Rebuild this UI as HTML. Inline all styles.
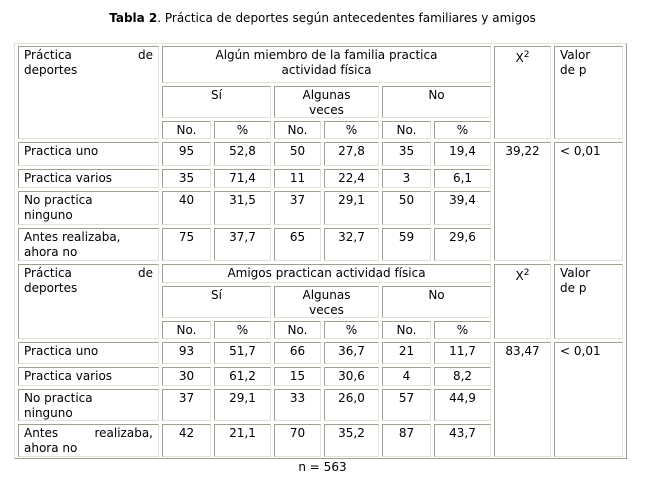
<!DOCTYPE html>
<html><head><meta charset="utf-8"><style>
body{margin:0;background:#fff;width:645px;height:480px;position:relative;font-family:"DejaVu Sans",Verdana,sans-serif;font-size:12px;color:#000;overflow:hidden}
.c{position:absolute;box-sizing:border-box;border:1px solid;border-color:#a09f90 #e2e1d4 #e2e1d4 #a09f90;line-height:15px;padding:1px 5px 0 5px}
.ctr{text-align:center}
#tbl{position:absolute;left:14px;top:43px;width:613px;height:416px;box-sizing:border-box;border:1px solid;border-color:#e2e1d4 #a09f90 #a09f90 #e2e1d4}
.t{position:absolute;left:0;width:645px;text-align:center}
</style></head><body>
<div class="t" style="top:11px"><b>Tabla 2</b>. Práctica de deportes según antecedentes familiares y amigos</div>
<div id="tbl"></div>
<div class="t" style="top:460px">n = 563</div>
<script>
function cell(x1,y1,x2,y2,html,cls){var d=document.createElement('div');d.className='c '+(cls||'');d.style.left=x1+'px';d.style.top=y1+'px';d.style.width=(x2-x1)+'px';d.style.height=(y2-y1)+'px';d.innerHTML=html;document.body.appendChild(d);}
var cols=[[162,211],[214,271],[274,321],[324,379],[382,431],[434,491]];
var pd='<div style="display:flex;justify-content:space-between"><span>Práctica</span><span>de</span></div>deportes';
function block(y0,title,rows,chi){
  var h1=y0+(title.indexOf('<br>')>0?37:19);
  var y2=h1+3,y3=y2+35,hend=y3+18;
  cell(18,y0,159,hend,pd);
  cell(162,y0,491,h1,title,'ctr');
  cell(494,y0,551,hend,'X<sup style="font-size:9px">2</sup>','ctr');
  cell(554,y0,623,hend,'Valor<br>de p');
  cell(162,y2,271,y3-3,'Sí','ctr');cell(274,y2,379,y3-3,'Algunas<br>veces','ctr');cell(382,y2,491,y3-3,'No','ctr');
  cols.forEach(function(c,i){cell(c[0],y3,c[1],hend,i%2?'%':'No.','ctr');});
  var y=hend+3,top=y;
  rows.forEach(function(r){
    cell(18,y,159,y+r[0],r[1]);
    r[2].forEach(function(v,i){cell(cols[i][0],y,cols[i][1],y+r[0],v,'ctr');});
    y+=r[0]+3;
  });
  cell(494,top,551,y-3,chi[0],'ctr');cell(554,top,623,y-3,chi[1]);
}
block(46,'Algún miembro de la familia practica<br>actividad física',[
 [24,'Practica uno',['95','52,8','50','27,8','35','19,4']],
 [19,'Practica varios',['35','71,4','11','22,4','3','6,1']],
 [34,'No practica<br>ninguno',['40','31,5','37','29,1','50','39,4']],
 [33,'Antes realizaba,<br>ahora no',['75','37,7','65','32,7','59','29,6']]
],['39,22','&lt; 0,01']);
block(264,'Amigos practican actividad física',[
 [22,'Practica uno',['93','51,7','66','36,7','21','11,7']],
 [19,'Practica varios',['30','61,2','15','30,6','4','8,2']],
 [32,'No practica<br>ninguno',['37','29,1','33','26,0','57','44,9']],
 [33,'<div style="display:flex;justify-content:space-between"><span>Antes</span><span>realizaba,</span></div>ahora no',['42','21,1','70','35,2','87','43,7']]
],['83,47','&lt; 0,01']);
</script>
</body></html>
